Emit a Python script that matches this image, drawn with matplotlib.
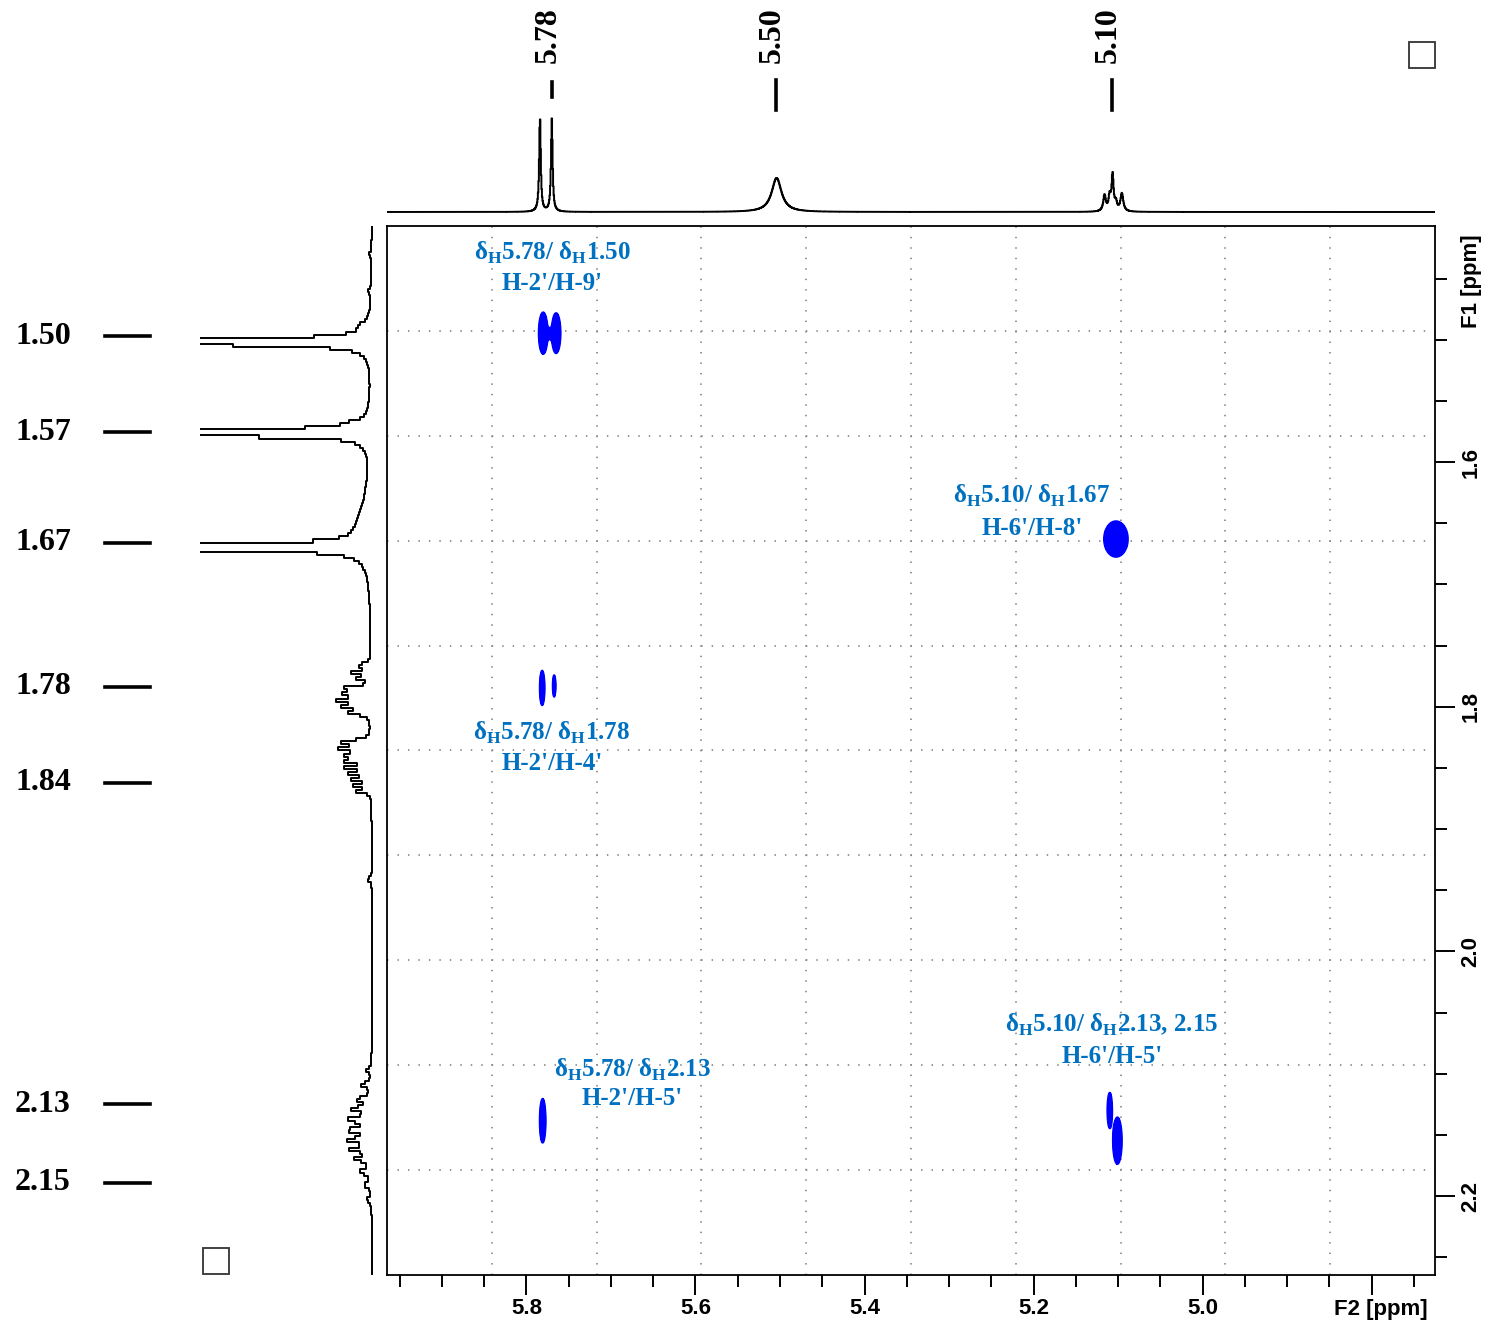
import numpy as np
import matplotlib
matplotlib.use("Agg")
import matplotlib.pyplot as plt
from matplotlib import transforms
from matplotlib.patches import Rectangle
from matplotlib.lines import Line2D
from matplotlib.ticker import MultipleLocator, FuncFormatter

plt.rcParams['font.family'] = ['Liberation Sans', 'DejaVu Sans']
plt.rcParams['font.weight'] = 'bold'

W, H, DPI = 1489, 1327, 100

# ---- spectral window (ppm) ----
f2_window = (5.965, 4.725)
f1_window = (1.407, 2.2645)

# ---- F2 projection (1H): line positions, heights, half-widths ----
f2_line_ppm = [5.7840, 5.7700, 5.5040, 5.1160, 5.1100, 5.1065, 5.1025, 5.0955]
f2_line_height = [95.0, 93.0, 34.0, 16.0, 14.0, 36.0, 8.0, 18.0]
f2_line_width = [0.0011, 0.0011, 0.0070, 0.0018, 0.0015, 0.0014, 0.0015, 0.0020]

# ---- F1 projection (1H): line positions, heights, half-widths ----
f1_line_ppm = [1.4300, 1.4600, 1.4880, 1.5016, 1.5677, 1.5763, 1.5820, 1.6520, 1.6695,
               1.7659, 1.7716, 1.7765, 1.7855, 1.7904, 1.7953, 1.8002, 1.8051,
               1.8288, 1.8337, 1.8386, 1.8435, 1.8492, 1.8541, 1.8590, 1.8647, 1.8696,
               1.9410,
               2.0967, 2.1090, 2.1210, 2.1290, 2.1376, 2.1458, 2.1540, 2.1620,
               2.1700, 2.1800, 2.1907, 2.2030]
f1_line_height = [3, 3, 6, 2500, 8, 2500, -8, 13, 2500,
                  15, 18, 13, 34, 30, 36, 28, 22,
                  30, 34, 27, 32, 23, 20, 18, 16, 13,
                  5,
                  5, 10, 15, 19, 22, 24, 22, 19, 16, 11, 8, 5]
f1_line_width = [0.002, 0.002, 0.003, 0.0007, 0.002, 0.0007, 0.002, 0.025, 0.0007,
                 0.0015, 0.0015, 0.0015, 0.0015, 0.0015, 0.0015, 0.0015, 0.0015,
                 0.0015, 0.0015, 0.0015, 0.0015, 0.0015, 0.0015, 0.0015, 0.0015, 0.0015,
                 0.0015,
                 0.0022, 0.0022, 0.0022, 0.0022, 0.0022, 0.0022, 0.0022, 0.0022,
                 0.0022, 0.0022, 0.0022, 0.0022]

# ---- COSY cross peaks (F2 ppm, F1 ppm, widths, relative amplitude) ----
cross_f2 = [5.7802, 5.7649, 5.7725, 5.1025, 5.7814, 5.7672, 5.7808, 5.1098, 5.1008]
cross_f1 = [1.4946, 1.4946, 1.4950, 1.6629, 1.7846, 1.7830, 2.1384, 2.1300, 2.1547]
cross_sig_f2 = [0.0026, 0.0026, 0.0040, 0.0069, 0.0015, 0.00105, 0.0019, 0.0020, 0.0026]
cross_sig_f1 = [0.0083, 0.0080, 0.0030, 0.0071, 0.0073, 0.0053, 0.0096, 0.0100, 0.0093]
cross_amp = [1.0, 1.0, 0.35, 1.0, 0.8, 0.5, 0.7, 0.35, 1.0]

# ---- peak-pick labels ----
f2_pick_labels = ['5.78', '5.50', '5.10']
f1_pick_labels = ['1.50', '1.57', '1.67', '1.78', '1.84', '2.13', '2.15']

# ---- cross-peak annotations ----
annot_shift = ['δ$_\\mathregular{H}$5.78/ δ$_\\mathregular{H}$1.50',
               'δ$_\\mathregular{H}$5.10/ δ$_\\mathregular{H}$1.67',
               'δ$_\\mathregular{H}$5.78/ δ$_\\mathregular{H}$1.78',
               'δ$_\\mathregular{H}$5.78/ δ$_\\mathregular{H}$2.13',
               'δ$_\\mathregular{H}$5.10/ δ$_\\mathregular{H}$2.13, 2.15']
annot_assign = ["H-2'/H-9'", "H-6'/H-8'", "H-2'/H-4'", "H-2'/H-5'", "H-6'/H-5'"]

# ---- layout (figure pixels, measured from the top-left corner) ----
main_box = (387, 226, 1435, 1275)
top_box = (387, 100, 1435, 218)
left_box = (200, 226, 386, 1275)
f2_pick_x = [552, 776, 1112]
f2_pick_dash = [(82, 97), (80, 110), (80, 110)]
f1_pick_y = [336, 432, 543, 687, 783, 1104, 1183]
annot_xy = [(552, 260, 290), (1032, 503, 535), (552, 740, 770),
            (632, 1077, 1105), (1112, 1032, 1063)]

ANNOT_BLUE = '#0070c0'
CONTOUR_BLUE = '#0000ff'
SERIF = ['Liberation Serif', 'DejaVu Serif']


def lorentz(x, pos, hgt, wid):
    y = np.zeros_like(x)
    for p, h, w in zip(pos, hgt, wid):
        y += h * w * w / ((x - p) ** 2 + w * w)
    return y


def frac_rect(box):
    x0, y0, x1, y1 = box
    return [x0 / W, 1 - y1 / H, (x1 - x0) / W, (y1 - y0) / H]


fig = plt.figure(figsize=(W / DPI, H / DPI), dpi=DPI)
px = transforms.Affine2D().scale(1 / W, -1 / H).translate(0, 1) + fig.transFigure

# ---------------- main 2D panel ----------------
ax = fig.add_axes(frac_rect(main_box))
ax.set_xlim(*f2_window)
ax.set_ylim(f1_window[1], f1_window[0])

f2g = np.linspace(f2_window[0], f2_window[1], 2500)
f1g = np.linspace(f1_window[0], f1_window[1], 1500)
Z = np.zeros((f1g.size, f2g.size))
for x0, y0, sx, sy, a in zip(cross_f2, cross_f1, cross_sig_f2, cross_sig_f1, cross_amp):
    gx = np.exp(-0.5 * ((f2g - x0) / sx) ** 2)
    gy = np.exp(-0.5 * ((f1g - y0) / sy) ** 2)
    Z += a * np.outer(gy, gx)
levels = [0.12, 0.18, 0.26, 0.35, 0.45, 0.56, 0.68, 0.8, 0.92]
ax.contourf(f2g, f1g, Z, levels=[levels[0], Z.max() + 1], colors=CONTOUR_BLUE, zorder=3)
ax.contour(f2g, f1g, Z, levels=levels, colors=CONTOUR_BLUE, linewidths=1.3, zorder=3)

# dotted grid dividing the panel into ten parts each way
for gxv in np.linspace(f2_window[0], f2_window[1], 11)[1:-1]:
    ax.axvline(gxv, color='#8c8c8c', lw=1.3, ls=(0, (0.8, 5.0)), zorder=1)
for gyv in np.linspace(f1_window[0], f1_window[1], 11)[1:-1]:
    ax.axhline(gyv, color='#8c8c8c', lw=1.3, ls=(0, (0.8, 5.0)), zorder=1)

for sp in ax.spines.values():
    sp.set_linewidth(1.3)

ax.xaxis.set_major_locator(MultipleLocator(0.2))
ax.xaxis.set_minor_locator(MultipleLocator(0.05))
ax.xaxis.set_major_formatter(FuncFormatter(lambda v, p: '' if v < 4.9 else f'{v:.1f}'))
ax.yaxis.tick_right()
ax.yaxis.set_major_locator(MultipleLocator(0.2))
ax.yaxis.set_minor_locator(MultipleLocator(0.05))
ax.yaxis.set_major_formatter(FuncFormatter(lambda v, p: f'{v:.1f}'))
ax.tick_params(which='major', direction='out', length=14.5, width=1.4,
               labelsize=16, pad=2)
ax.tick_params(which='minor', direction='out', length=8.5, width=1.4)
ax.tick_params(axis='y', which='both', left=False, right=True, labelleft=False,
               labelright=True, labelrotation=90, pad=4)
for lbl in ax.get_yticklabels():
    lbl.set_verticalalignment('center')

fig.text(1381, 1309, 'F2 [ppm]', transform=px, ha='center', va='center',
         fontsize=16, fontweight='bold')
fig.text(1471, 281, 'F1 [ppm]', transform=px, ha='center', va='center',
         rotation=90, fontsize=16, fontweight='bold')

# cross-peak annotations
for (cx, yb1, yb2), s1, s2 in zip(annot_xy, annot_shift, annot_assign):
    fig.text(cx, yb1, s1, transform=px, ha='center', va='baseline', color=ANNOT_BLUE,
             fontsize=18, fontweight='bold', family=SERIF)
    fig.text(cx, yb2, s2, transform=px, ha='center', va='baseline', color=ANNOT_BLUE,
             fontsize=18, fontweight='bold', family=SERIF)

# ---------------- F2 projection (top) ----------------
axt = fig.add_axes(frac_rect(top_box))
axt.set_xlim(*f2_window)
axt.set_ylim(-6, 112)
axt.axis('off')
xt = np.arange(f2_window[0], f2_window[1], -0.0006)
axt.plot(xt, lorentz(xt, f2_line_ppm, f2_line_height, f2_line_width),
         color='black', lw=1.4, drawstyle='steps-mid')

# ---------------- F1 projection (left) ----------------
axl = fig.add_axes(frac_rect(left_box))
axl.set_xlim(172, -14)
axl.set_ylim(f1_window[1], f1_window[0])
axl.axis('off')
step = 0.0025
yl = np.arange(f1_window[0], f1_window[1] + step, step)
vl = lorentz(yl, f1_line_ppm, f1_line_height, f1_line_width)
edges = np.concatenate([[yl[0] - step / 2], yl + step / 2])
xs = np.repeat(vl, 2)
ys = np.column_stack([edges[:-1], edges[1:]]).ravel()
axl.plot(xs, ys, color='black', lw=1.4)

# ---------------- peak-pick labels ----------------
for lab, x, (d0, d1) in zip(f2_pick_labels, f2_pick_x, f2_pick_dash):
    fig.text(x - 4, 63, lab, transform=px, ha='center', va='bottom', rotation=90,
             fontsize=23, fontweight='bold', family=SERIF)
    fig.add_artist(Line2D([x, x], [d0, d1], transform=px, color='black', lw=2.6))

for lab, y in zip(f1_pick_labels, f1_pick_y):
    fig.text(15, y, lab, transform=px, ha='left', va='center',
             fontsize=23, fontweight='bold', family=SERIF)
    fig.add_artist(Line2D([105, 150], [y, y], transform=px, color='black', lw=2.6))

# small corner boxes
for (bx, by) in [(1409, 42), (203, 1248)]:
    fig.add_artist(Rectangle((bx, by + 26), 26, -26, transform=px, fill=False,
                             edgecolor='#333333', lw=1.3))

fig.savefig('out.png', dpi=DPI)
